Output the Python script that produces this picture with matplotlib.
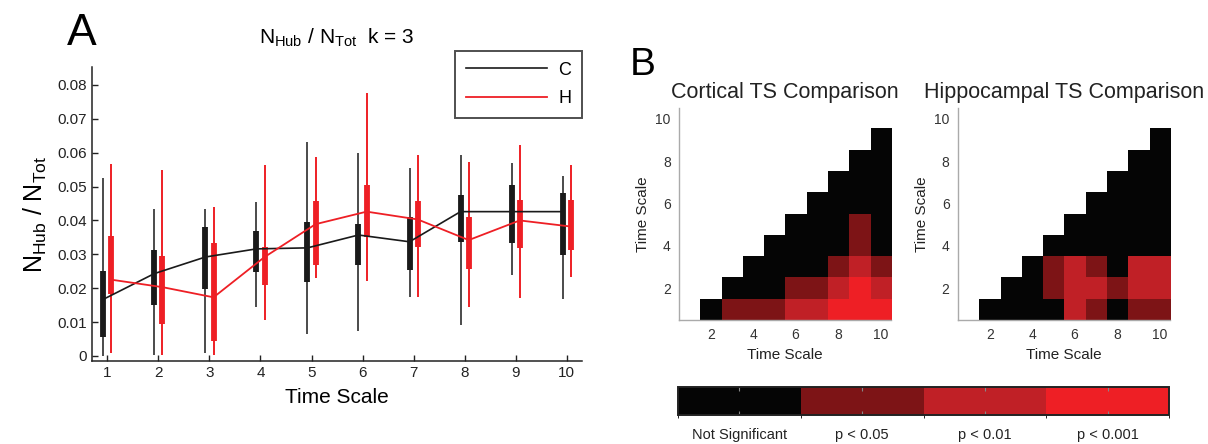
import numpy as np
import matplotlib
matplotlib.use('Agg')
import matplotlib.pyplot as plt
from matplotlib.colors import ListedColormap, BoundaryNorm

plt.rcParams['font.family'] = ['Liberation Sans', 'DejaVu Sans']
plt.rcParams['mathtext.fontset'] = 'custom'
plt.rcParams['mathtext.rm'] = 'Liberation Sans'
plt.rcParams['mathtext.it'] = 'Liberation Sans'

# Panel A data: box stats per time scale (whisker low/high, box q1/q3, median)
time_scale = np.arange(1, 11)

c_wlo = [0.0000, 0.0003, 0.0010, 0.0144, 0.0066, 0.0074, 0.0173, 0.0091, 0.0240, 0.0167]
c_whi = [0.0525, 0.0433, 0.0434, 0.0453, 0.0631, 0.0600, 0.0556, 0.0593, 0.0570, 0.0530]
c_q1 = [0.0055, 0.0149, 0.0197, 0.0248, 0.0218, 0.0267, 0.0253, 0.0335, 0.0332, 0.0297]
c_q3 = [0.0251, 0.0314, 0.0380, 0.0369, 0.0394, 0.0390, 0.0410, 0.0476, 0.0504, 0.0481]
c_med = [0.0167, 0.0243, 0.0292, 0.0316, 0.0319, 0.0357, 0.0337, 0.0426, 0.0426, 0.0426]

h_wlo = [0.0008, 0.0002, 0.0002, 0.0106, 0.0230, 0.0220, 0.0173, 0.0144, 0.0172, 0.0233]
h_whi = [0.0568, 0.0548, 0.0439, 0.0564, 0.0588, 0.0776, 0.0592, 0.0573, 0.0622, 0.0563]
h_q1 = [0.0183, 0.0094, 0.0045, 0.0208, 0.0268, 0.0350, 0.0322, 0.0258, 0.0320, 0.0314]
h_q3 = [0.0355, 0.0294, 0.0332, 0.0322, 0.0457, 0.0505, 0.0456, 0.0410, 0.0460, 0.0459]
h_med = [0.0225, 0.0203, 0.0173, 0.0292, 0.0389, 0.0426, 0.0403, 0.0342, 0.0400, 0.0382]

# Panel B data: significance level per (row, col) pair, 0=NS,1=p<.05,2=p<.01,3=p<.001
# rows = time scale 1..9, entries for columns row+1..10
cortical_rows = [
    [0, 1, 1, 1, 2, 2, 3, 3, 3],
    [0, 0, 0, 1, 1, 2, 3, 2],
    [0, 0, 0, 0, 1, 2, 1],
    [0, 0, 0, 0, 1, 0],
    [0, 0, 0, 1, 0],
    [0, 0, 0, 0],
    [0, 0, 0],
    [0, 0],
    [0],
]
hippo_rows = [
    [0, 0, 0, 0, 2, 1, 0, 1, 1],
    [0, 0, 1, 2, 2, 1, 2, 2],
    [0, 1, 2, 1, 0, 2, 2],
    [0, 0, 0, 0, 0, 0],
    [0, 0, 0, 0, 0],
    [0, 0, 0, 0],
    [0, 0, 0],
    [0, 0],
    [0],
]
sig_labels = ['Not Significant', 'p < 0.05', 'p < 0.01', 'p < 0.001']
sig_colors = ['#050505', '#7d1416', '#c02026', '#ee1f25']

RED = '#ee1f25'


def to_matrix(rows):
    m = np.full((10, 10), np.nan)
    for i, r in enumerate(rows):
        m[i, i + 1:] = r
    return m


fig = plt.figure(figsize=(12.08, 4.44), dpi=100)

# ---- Panel A ----
ax = fig.add_axes([0.0762, 0.187, 0.4056, 0.662])
off = 0.08
xc = time_scale - off
xh = time_scale + off
ax.vlines(xc, c_wlo, c_whi, color='#1a1a1a', lw=1.1)
ax.vlines(xc, c_q1, c_q3, color='#1a1a1a', lw=4.2)
ax.vlines(xh, h_wlo, h_whi, color=RED, lw=1.4)
ax.vlines(xh, h_q1, h_q3, color=RED, lw=4.2)
ax.plot(xc, c_med, color='#1a1a1a', lw=1.2, label='C')
ax.plot(xh, h_med, color=RED, lw=1.3, label='H')

ax.set_xlim(0.7, 10.3)
ax.set_ylim(-0.0015, 0.0853)
ax.set_xticks(time_scale)
ax.set_yticks(np.arange(0, 0.081, 0.01))
ax.set_yticklabels(['0'] + ['%.2f' % v for v in np.arange(0.01, 0.081, 0.01)])
ax.tick_params(direction='in', length=4, labelsize=11, colors='#222222', width=1)
for s in ['top', 'right']:
    ax.spines[s].set_visible(False)
for s in ['left', 'bottom']:
    ax.spines[s].set_linewidth(1.1)
    ax.spines[s].set_color('#222222')
ax.set_xlabel('Time Scale', fontsize=15, labelpad=6)
ax.set_ylabel(r'$\mathrm{N_{Hub}}$ / $\mathrm{N_{Tot}}$', fontsize=18, labelpad=6)
ax.set_title(r'$\mathrm{N_{Hub}}$ / $\mathrm{N_{Tot}}$  k = 3', fontsize=15, pad=17)
leg = ax.legend(loc='upper right', bbox_to_anchor=(1.0, 1.055), fontsize=13,
                frameon=True, fancybox=False, handlelength=4.5, handletextpad=0.6,
                borderpad=0.6, labelspacing=0.65, borderaxespad=0)
leg.get_frame().set_edgecolor('#222222')
leg.get_frame().set_linewidth(1.4)
fig.text(0.055, 0.97, 'A', fontsize=32, va='top', ha='left')

# ---- Panel B ----
cmap = ListedColormap(sig_colors)
cmap.set_bad('white')
norm = BoundaryNorm([-0.5, 0.5, 1.5, 2.5, 3.5], cmap.N)

panels = [
    (0.5621, 'Cortical TS Comparison', cortical_rows),
    (0.7930, 'Hippocampal TS Comparison', hippo_rows),
]
for left, title, rows in panels:
    hx = fig.add_axes([left, 0.279, 0.1755, 0.4775])
    m = np.ma.masked_invalid(to_matrix(rows))
    im = hx.imshow(m, cmap=cmap, norm=norm, origin='lower',
                   extent=(0.5, 10.5, 0.5, 10.5), interpolation='nearest', aspect='auto')
    hx.set_xticks([2, 4, 6, 8, 10])
    hx.set_yticks([2, 4, 6, 8, 10])
    hx.tick_params(length=0, labelsize=10, colors='#333333', pad=6)
    for s in ['top', 'right']:
        hx.spines[s].set_visible(False)
    for s in ['left', 'bottom']:
        hx.spines[s].set_color('#aaaaaa')
        hx.spines[s].set_linewidth(1.0)
    hx.set_xlabel('Time Scale', fontsize=11, labelpad=4, color='#222222')
    hx.set_ylabel('Time Scale', fontsize=11, labelpad=4, color='#222222')
    hx.set_title(title, fontsize=15.5, pad=7, color='#222222')

fig.text(0.521, 0.895, 'B', fontsize=28, va='top', ha='left')

cax = fig.add_axes([0.5613, 0.0653, 0.4065, 0.063])
cb = fig.colorbar(im, cax=cax, orientation='horizontal', ticks=[0, 1, 2, 3])
cb.set_ticklabels(sig_labels)
cb.outline.set_linewidth(1.4)
cb.outline.set_edgecolor('#222222')
cax.tick_params(direction='in', length=3, color='#888888', labelsize=10.5, pad=9,
                top=True, labelcolor='#222222')

fig.savefig('out.png', dpi=100)
